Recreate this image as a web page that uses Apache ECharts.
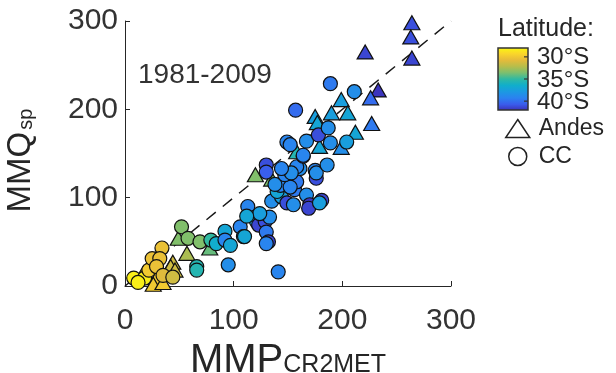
<!DOCTYPE html>
<html>
<head>
<meta charset="utf-8">
<script src="https://cdn.jsdelivr.net/npm/echarts@6/dist/echarts.min.js"></script>
<style>
  html, body { margin: 0; padding: 0; background: #fff; }
  #chart { width: 616px; height: 373px; }
</style>
</head>
<body>
<div id="chart"></div>
<script>
// Andes stations: MMP (CR2MET), MMQ (streamflow), latitude (°S)
const andesMMP = [264, 263, 264, 221, 233, 226, 227, 199, 190, 205, 175, 177, 212, 199, 179, 158, 120, 135, 49, 57, 78, 44, 42, 46, 29, 26, 17, 35];
const andesMMQ = [298, 282, 258, 265, 222, 213, 184, 211, 196, 196, 192, 185, 174, 157, 158, 152, 126, 121, 54, 37, 43, 27, 22, 18, 9, 2, 15, 4];
const andesLat = [41, 41, 41.3, 41.3, 41.8, 40, 39.5, 37.5, 37.5, 37, 37.5, 37, 37, 38.5, 37, 35.5, 33.5, 33.5, 33.5, 32.5, 34, 31.5, 31.5, 31.5, 30, 30, 29.5, 30];

// Central Chile (CC) stations
const ccMMP = [8, 18, 12, 22, 25, 34, 32, 29, 35, 44,
  52, 58, 69, 66, 66, 79, 84, 92, 92, 97, 95,
  106, 109, 113, 120, 121, 123, 129, 130, 132, 133, 130, 110, 124, 112,
  141, 135, 144, 149, 140, 143, 138, 156, 158, 167, 170, 181, 169, 155, 179, 152,
  147, 161, 175, 176, 158, 176, 130, 130, 164, 186, 153, 144,
  149, 152, 167, 178, 187, 189, 204, 157, 189, 211, 164];
const ccMMQ = [9, 9, 4, 18, 31, 43, 31, 22, 12, 10,
  67, 54, 50, 22, 18, 52, 48, 62, 52, 46, 24,
  67, 56, 90, 78, 73, 69, 73, 61, 50, 78, 48, 56, 82, 79,
  16, 96, 101, 94, 107, 114, 115, 109, 118, 103, 92, 97, 88, 92, 94, 112,
  126, 133, 131, 122, 135, 128, 137, 129, 147, 137, 128, 133,
  163, 160, 164, 171, 179, 162, 163, 199, 229, 220, 148];
const ccLat = [28.5, 28.5, 28.5, 30, 30.5, 30.5, 30.5, 30.5, 31, 31.5,
  33.5, 33.5, 33.5, 35.5, 35.5, 35, 36.5, 37, 39, 37, 38.5,
  39, 37, 39, 37, 37.5, 41.3, 41, 39.5, 41.3, 38.5, 39, 37, 37.5, 37,
  39, 38.5, 37.5, 41, 37, 39, 38.5, 39.5, 39.5, 38.5, 41.8, 41.3, 41.3, 38.5, 37.5, 39,
  39, 38.5, 39, 41, 39, 38.5, 41, 40.5, 41, 38.5, 38.5, 39,
  39, 39, 38.5, 41, 38.5, 38.5, 37.5, 40, 39.5, 38.5, 39];

// 1:1 reference line
const oneToOneX = [0, 300];
const oneToOneY = [0, 300];

const axisTicks = [0, 100, 200, 300];
const latRange = [28, 42];
const colorbarTicks = [30, 35, 40];
const colorbarLabels = ['30°S', '35°S', '40°S'];

// parula-like ramp, evenly spaced from 28°S (yellow) to 42°S (violet)
const parula = ['#f9fb0e', '#fad62a', '#e6bb3a', '#b8bd4a', '#7dbf6e', '#30b9a2',
  '#10aecb', '#1c99e2', '#2b82f0', '#3a5cec', '#3b2fb5'];

const FONT = 'Liberation Sans, Arial, sans-serif';
const INK = '#262626';

const chart = echarts.init(document.getElementById('chart'));

const cbX = 498, cbY = 48, cbW = 30, cbH = 62;
const latToY = (lat) => cbY + (lat - latRange[0]) / (latRange[1] - latRange[0]) * cbH;

const graphics = [
  {
    type: 'text', left: 138, top: 61,
    style: { text: '1981-2009', font: '28px ' + FONT, fill: '#333' }
  },
  {
    type: 'text', left: 498, top: 17,
    style: { text: 'Latitude:', font: '25px ' + FONT, fill: INK }
  },
  {
    type: 'rect',
    shape: { x: cbX, y: cbY, width: cbW, height: cbH },
    style: {
      fill: {
        type: 'linear', x: 0, y: 0, x2: 0, y2: 1,
        colorStops: parula.map((c, i) => ({ offset: i / (parula.length - 1), color: c }))
      },
      stroke: '#333', lineWidth: 1.5
    }
  }
];
colorbarTicks.forEach((lat, i) => {
  const y = latToY(lat);
  graphics.push({
    type: 'line',
    shape: { x1: cbX + cbW - 4, y1: y, x2: cbX + cbW, y2: y },
    style: { stroke: '#333', lineWidth: 1.2 }
  });
  graphics.push({
    type: 'text', x: 537, y: y + 1,
    style: { text: colorbarLabels[i], font: '24px ' + FONT, fill: INK, verticalAlign: 'middle' }
  });
});

const axisCommon = {
  type: 'value',
  min: axisTicks[0],
  max: axisTicks[axisTicks.length - 1],
  interval: 100,
  splitLine: { show: false },
  axisLine: { show: true, lineStyle: { color: INK, width: 1 } },
  axisTick: { show: true, inside: true, length: 5, lineStyle: { color: INK } },
  axisLabel: { color: '#333', fontSize: 30, fontFamily: FONT },
  nameLocation: 'middle'
};

chart.setOption({
  animation: false,
  grid: { left: 125, right: 165, top: 21, bottom: 87, containLabel: false, outerBoundsMode: 'none' },
  xAxis: Object.assign({}, axisCommon, {
    axisLabel: Object.assign({}, axisCommon.axisLabel, { margin: 20 }),
    name: '{a|MMP}{b|CR2MET}',
    nameGap: 36,
    nameTextStyle: {
      rich: {
        a: { fontSize: 40, fontFamily: FONT, color: INK, verticalAlign: 'bottom' },
        b: { fontSize: 25, fontFamily: FONT, color: INK, verticalAlign: 'bottom', padding: [0, 0, 3, 0] }
      }
    }
  }),
  yAxis: Object.assign({}, axisCommon, {
    axisLabel: Object.assign({}, axisCommon.axisLabel, { margin: 7 }),
    name: '{a|MMQ}{b|sp}',
    nameRotate: 90,
    nameGap: 88,
    nameTextStyle: {
      rich: {
        a: { fontSize: 33, fontFamily: FONT, color: INK, verticalAlign: 'bottom' },
        b: { fontSize: 20, fontFamily: FONT, color: INK, verticalAlign: 'bottom', padding: [0, 14, 1, 2] }
      }
    }
  }),
  visualMap: {
    show: false,
    type: 'continuous',
    dimension: 2,
    min: latRange[0],
    max: latRange[1],
    seriesIndex: [1, 2],
    inRange: { color: parula }
  },
  legend: {
    orient: 'vertical',
    left: 500,
    top: 112,
    itemWidth: 24,
    itemHeight: 18,
    itemGap: 5,
    textStyle: { fontSize: 23, fontFamily: FONT, color: INK, padding: [0, 0, 0, 4] },
    data: [
      { name: 'Andes', icon: 'triangle', itemStyle: { color: '#fff', borderColor: '#222', borderWidth: 1.5 } },
      { name: 'CC', icon: 'circle', itemStyle: { color: '#fff', borderColor: '#222', borderWidth: 1.5 } }
    ]
  },
  graphic: graphics,
  series: [
    {
      type: 'line',
      data: oneToOneX.map((x, i) => [x, oneToOneY[i]]),
      symbol: 'none',
      z: 1,
      silent: true,
      lineStyle: { color: '#1a1a1a', width: 1.5, type: [12, 9] }
    },
    {
      name: 'Andes',
      type: 'scatter',
      symbol: 'triangle',
      symbolSize: [16, 14],
      z: 2,
      data: andesMMP.map((x, i) => [x, andesMMQ[i], andesLat[i]]),
      itemStyle: { borderColor: '#111', borderWidth: 1.2, opacity: 1 }
    },
    {
      name: 'CC',
      type: 'scatter',
      symbol: 'circle',
      symbolSize: 14,
      z: 3,
      data: ccMMP.map((x, i) => [x, ccMMQ[i], ccLat[i]]),
      itemStyle: { borderColor: '#111', borderWidth: 1.2, opacity: 1 }
    }
  ]
});
</script>
</body>
</html>
